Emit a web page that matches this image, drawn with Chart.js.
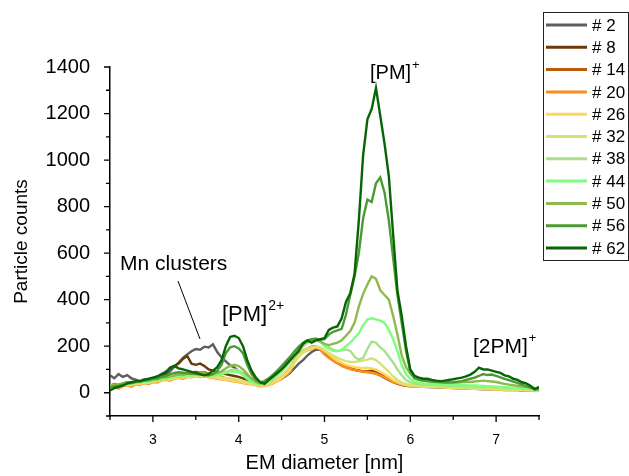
<!DOCTYPE html>
<html>
<head>
<meta charset="utf-8">
<script src="https://cdn.jsdelivr.net/npm/chart.js@4.4.1/dist/chart.umd.min.js"></script>
<style>
  html, body { margin: 0; padding: 0; background: #fff; }
  #wrap { width: 629px; height: 476px; }
</style>
</head>
<body>
<div id="wrap"><canvas id="chart" width="629" height="476"></canvas></div>
<script>
/* ---- x values: EM diameter [nm] ---- */
const diameter = [
  2.50, 2.55, 2.60, 2.65, 2.70, 2.75, 2.80, 2.85, 2.90, 2.95,
  3.00, 3.05, 3.10, 3.15, 3.20, 3.25, 3.30, 3.35, 3.40, 3.45,
  3.50, 3.55, 3.60, 3.65, 3.70, 3.75, 3.80, 3.85, 3.90, 3.95,
  4.00, 4.05, 4.10, 4.15, 4.20, 4.25, 4.30, 4.35, 4.40, 4.45,
  4.50, 4.55, 4.60, 4.65, 4.70, 4.75, 4.80, 4.85, 4.90, 4.95,
  5.00, 5.05, 5.10, 5.15, 5.20, 5.25, 5.30, 5.35, 5.40, 5.45,
  5.50, 5.55, 5.60, 5.65, 5.70, 5.75, 5.80, 5.85, 5.90, 5.95,
  6.00, 6.05, 6.10, 6.15, 6.20, 6.25, 6.30, 6.35, 6.40, 6.45,
  6.50, 6.55, 6.60, 6.65, 6.70, 6.75, 6.80, 6.85, 6.90, 6.95,
  7.00, 7.05, 7.10, 7.15, 7.20, 7.25, 7.30, 7.35, 7.40, 7.45,
  7.50
];

/* ---- particle counts per sample ---- */
const s2 = [
  75, 62, 80, 68, 76, 62, 56, 50, 58, 55,
  62, 70, 68, 78, 92, 112, 130, 150, 165, 178,
  188, 185, 198, 195, 208, 175, 152, 135, 118, 108,
  92, 82, 72, 60, 48, 40, 38, 40, 46, 52,
  60, 72, 85, 105, 125, 140, 160, 175, 185, 185,
  172, 155, 142, 128, 118, 110, 104, 98, 95, 92,
  90, 86, 82, 74, 64, 54, 45, 38, 33, 30,
  28, 27, 26, 25, 24, 23, 23, 22, 21, 21,
  20, 19, 19, 18, 17, 17, 16, 15, 15, 14,
  14, 13, 12, 12, 11, 11, 10, 10, 9, 9,
  8
];
const s8 = [
  30, 38, 34, 40, 45, 42, 48, 46, 52, 50,
  58, 62, 70, 85, 108, 115, 125, 145, 158, 125,
  120, 125, 115, 100, 95, 90, 85, 80, 76, 72,
  68, 62, 55, 48, 42, 38, 38, 42, 48, 58,
  70, 88, 108, 140, 162, 178, 188, 195, 198, 188,
  170, 152, 140, 128, 118, 110, 104, 98, 94, 92,
  92, 96, 88, 78, 68, 58, 48, 42, 36, 33,
  31, 30, 29, 28, 27, 26, 25, 24, 24, 23,
  22, 22, 21, 20, 20, 19, 18, 18, 17, 17,
  16, 15, 15, 14, 13, 13, 12, 12, 11, 10,
  10
];
const s14 = [
  25, 30, 28, 34, 38, 35, 42, 40, 46, 44,
  52, 50, 58, 62, 66, 72, 80, 78, 86, 84,
  90, 86, 88, 82, 78, 72, 68, 62, 58, 54,
  50, 46, 42, 38, 35, 32, 34, 38, 45, 56,
  68, 85, 105, 140, 165, 180, 190, 198, 200, 190,
  172, 155, 142, 130, 120, 112, 106, 100, 96, 92,
  92, 88, 84, 76, 68, 58, 48, 42, 36, 33,
  31, 30, 29, 28, 27, 26, 25, 24, 24, 23,
  22, 22, 21, 20, 20, 19, 18, 18, 17, 17,
  16, 15, 15, 14, 13, 13, 12, 12, 11, 10,
  10
];
const s20 = [
  15, 22, 18, 28, 32, 26, 36, 33, 42, 38,
  46, 44, 52, 55, 52, 60, 64, 60, 68, 66,
  72, 68, 70, 66, 64, 60, 58, 54, 52, 48,
  46, 42, 38, 36, 32, 28, 30, 34, 40, 50,
  60, 75, 90, 135, 160, 175, 182, 190, 195, 185,
  165, 150, 138, 128, 115, 108, 102, 98, 94, 90,
  88, 86, 82, 74, 66, 56, 46, 40, 35, 32,
  30, 29, 28, 27, 26, 25, 25, 24, 23, 22,
  22, 21, 20, 20, 19, 18, 18, 17, 16, 16,
  15, 15, 14, 13, 13, 12, 11, 11, 10, 10,
  9
];
const s26 = [
  20, 25, 24, 30, 34, 32, 38, 36, 44, 42,
  48, 48, 54, 58, 56, 62, 66, 64, 70, 68,
  74, 70, 72, 68, 66, 62, 60, 56, 54, 50,
  48, 44, 40, 36, 33, 30, 32, 36, 42, 52,
  64, 80, 98, 130, 155, 172, 184, 192, 196, 192,
  180, 165, 150, 138, 128, 120, 114, 110, 108, 106,
  106, 104, 100, 90, 80, 68, 55, 45, 38, 33,
  30, 28, 27, 26, 25, 24, 24, 23, 22, 21,
  21, 20, 19, 19, 18, 17, 17, 16, 15, 15,
  14, 14, 13, 12, 12, 11, 11, 10, 10, 9,
  8
];
const s32 = [
  25, 30, 28, 34, 38, 36, 42, 40, 46, 45,
  50, 52, 56, 60, 62, 66, 70, 68, 74, 72,
  76, 74, 75, 72, 70, 68, 66, 64, 62, 58,
  55, 50, 45, 40, 36, 34, 36, 40, 48, 60,
  74, 92, 112, 140, 162, 178, 190, 196, 200, 195,
  185, 172, 160, 150, 142, 136, 132, 132, 135, 138,
  142, 148, 140, 125, 108, 90, 70, 55, 45, 38,
  34, 32, 30, 29, 28, 27, 26, 25, 24, 23,
  22, 22, 21, 20, 19, 19, 18, 17, 17, 16,
  15, 15, 14, 13, 13, 12, 11, 11, 10, 10,
  9
];
const s38 = [
  30, 34, 32, 38, 42, 40, 46, 45, 50, 48,
  54, 55, 60, 62, 66, 70, 72, 72, 78, 76,
  80, 78, 80, 78, 76, 80, 84, 90, 96, 100,
  95, 82, 65, 50, 40, 36, 40, 48, 60, 75,
  92, 112, 135, 160, 180, 200, 215, 225, 228, 218,
  205, 195, 185, 180, 182, 185, 180, 155, 142, 150,
  188, 220, 215, 195, 180, 155, 130, 100, 75, 55,
  45, 40, 38, 36, 35, 34, 33, 32, 31, 30,
  30, 29, 29, 28, 28, 27, 27, 26, 25, 24,
  24, 23, 22, 21, 20, 19, 18, 17, 16, 15,
  14
];
const s44 = [
  28, 32, 30, 36, 40, 38, 44, 42, 48, 47,
  52, 54, 58, 60, 64, 68, 70, 70, 76, 74,
  78, 76, 78, 75, 74, 76, 80, 86, 90, 92,
  88, 76, 60, 48, 40, 36, 40, 50, 64, 82,
  100, 122, 145, 172, 192, 210, 222, 230, 232, 222,
  200, 188, 180, 178, 185, 200, 215, 235, 255, 290,
  315, 320, 315, 310, 300, 270, 230, 180, 120, 80,
  60, 48, 42, 40, 38, 37, 36, 35, 35, 34,
  33, 33, 32, 32, 31, 31, 30, 29, 28, 27,
  26, 25, 24, 23, 22, 21, 20, 19, 18, 17,
  16
];
const s50 = [
  30, 35, 33, 40, 44, 42, 48, 47, 53, 52,
  58, 58, 64, 66, 70, 74, 78, 76, 82, 80,
  84, 82, 84, 80, 80, 84, 92, 105, 115, 120,
  115, 100, 80, 60, 46, 40, 44, 54, 68, 86,
  105, 128, 150, 175, 195, 210, 220, 226, 228, 220,
  210, 205, 210, 215, 225, 245, 265, 300, 370, 425,
  465, 500, 490, 440, 420, 400, 330, 250, 160, 110,
  82, 62, 55, 52, 50, 48, 47, 46, 45, 45,
  44, 44, 45, 46, 46, 48, 50, 52, 50, 48,
  46, 42, 38, 35, 32, 30, 27, 25, 22, 20,
  18
];
const s56 = [
  22, 28, 30, 35, 40, 42, 46, 48, 52, 55,
  60, 62, 68, 72, 80, 85, 88, 86, 84, 82,
  80, 78, 76, 74, 80, 95, 120, 170, 195, 200,
  190, 170, 120, 80, 55, 45, 50, 62, 78, 95,
  115, 135, 155, 178, 198, 215, 225, 230, 232, 228,
  230, 250, 262, 268, 275, 335, 420, 500, 600, 750,
  830, 820, 900, 925, 860, 740, 580, 420, 300, 180,
  90, 62, 55, 52, 50, 48, 46, 45, 44, 44,
  45, 47, 50, 55, 60, 65, 72, 80, 76, 78,
  72, 66, 60, 54, 48, 42, 35, 28, 22, 16,
  14
];
const s62 = [
  10, 20, 25, 30, 40, 45, 50, 50, 55, 60,
  65, 70, 80, 90, 105, 115, 105, 100, 95, 90,
  85, 80, 75, 80, 95, 110, 140, 200, 240, 245,
  235, 200, 140, 95, 65, 45, 38, 55, 70, 85,
  100, 120, 140, 160, 180, 210, 225, 215, 225, 230,
  235, 270, 280, 285, 320, 390, 427, 510, 740, 1020,
  1175, 1220, 1310, 1190, 1070, 930, 680, 440, 330, 200,
  100, 72, 65, 60, 60, 55, 52, 50, 52, 55,
  58, 62, 65, 70, 78, 90, 108, 100, 100, 95,
  90, 85, 75, 70, 60, 55, 45, 40, 30, 15,
  25
];

const seriesLabels = ["# 2", "# 8", "# 14", "# 20", "# 26", "# 32", "# 38", "# 44", "# 50", "# 56", "# 62"];
const seriesValues = [s2, s8, s14, s20, s26, s32, s38, s44, s50, s56, s62];
const seriesColors = ["#5e5e5e", "#6b3a06", "#b85c0a", "#ff8c1a", "#ffd75e", "#d6e374",
                      "#a9e08c", "#7dff7d", "#8fb94d", "#4c9a34", "#066606"];

/* ---- tick values ---- */
const xMajor = [3, 4, 5, 6, 7];
const xMinor = [2.5, 3.5, 4.5, 5.5, 6.5, 7.5];
const yMajor = [0, 200, 400, 600, 800, 1000, 1200, 1400];
const yMinor = [-100, 100, 300, 500, 700, 900, 1100, 1300];

const FONT = "'Liberation Sans', Arial, sans-serif";

/* ---- ticks, annotations and legend ---- */
const extras = {
  id: "extras",
  afterDraw(chart) {
    const ctx = chart.ctx;
    const xs = chart.scales.x, ys = chart.scales.y;
    const area = chart.chartArea;
    ctx.save();
    ctx.strokeStyle = "#000";
    ctx.lineWidth = 1.3;
    ctx.beginPath();
    xMajor.forEach(v => { const p = xs.getPixelForValue(v); ctx.moveTo(p, area.bottom); ctx.lineTo(p, area.bottom + 6); });
    xMinor.forEach(v => { const p = xs.getPixelForValue(v); ctx.moveTo(p, area.bottom); ctx.lineTo(p, area.bottom + 4); });
    yMajor.forEach(v => { const p = ys.getPixelForValue(v); ctx.moveTo(area.left, p); ctx.lineTo(area.left - 6, p); });
    yMinor.forEach(v => { const p = ys.getPixelForValue(v); ctx.moveTo(area.left, p); ctx.lineTo(area.left - 4, p); });
    ctx.stroke();

    // annotations
    ctx.fillStyle = "#000";
    ctx.textBaseline = "middle";
    ctx.textAlign = "left";
    const sup = (base, supTxt, x, y, size, supSize, dy) => {
      ctx.font = size + "px " + FONT;
      ctx.fillText(base, x, y);
      const w = ctx.measureText(base).width;
      ctx.font = supSize + "px " + FONT;
      ctx.fillText(supTxt, x + w + 1, y - dy);
    };
    sup("[PM]", "+", 370, 73, 20, 13, 8);
    sup("[PM]", "2+", 222, 315, 22, 14, 9);
    sup("[2PM]", "+", 473, 347, 21, 13, 9);
    ctx.font = "21px " + FONT;
    ctx.fillText("Mn clusters", 120, 264);
    ctx.lineWidth = 1;
    ctx.beginPath();
    ctx.moveTo(178, 281);
    ctx.lineTo(200, 339);
    ctx.stroke();

    // legend
    ctx.strokeStyle = "#222";
    ctx.lineWidth = 1;
    ctx.strokeRect(543.5, 12.5, 85, 248);
    ctx.font = "17px " + FONT;
    chart.data.datasets.forEach((ds, i) => {
      const y = 25 + i * 22.3;
      ctx.strokeStyle = ds.borderColor;
      ctx.lineWidth = 3;
      ctx.beginPath();
      ctx.moveTo(546, y);
      ctx.lineTo(587, y);
      ctx.stroke();
      ctx.fillStyle = "#000";
      ctx.fillText(ds.label, 592, y + 1);
    });
    ctx.restore();
  }
};

new Chart(document.getElementById("chart"), {
  type: "line",
  data: {
    datasets: seriesLabels.map((label, i) => ({
      label: label,
      data: diameter.map((d, j) => ({ x: d, y: seriesValues[i][j] })),
      borderColor: seriesColors[i],
      backgroundColor: seriesColors[i],
      borderWidth: 2.4,
      pointRadius: 0,
      tension: 0,
      order: seriesLabels.length - i
    }))
  },
  options: {
    responsive: false,
    animation: false,
    devicePixelRatio: 1,
    layout: { padding: { left: 0, right: 90, top: 67, bottom: 0 } },
    plugins: { legend: { display: false }, tooltip: { enabled: false } },
    scales: {
      x: {
        type: "linear",
        min: 2.5,
        max: 7.5,
        afterBuildTicks: s => { s.ticks = xMajor.map(v => ({ value: v })); },
        afterFit: s => { s.height = 60; },
        grid: { display: false },
        border: { display: true, color: "#000", width: 1.5 },
        ticks: { color: "#000", padding: 8, font: { family: FONT, size: 14 }, maxRotation: 0, callback: v => String(v) },
        title: { display: true, text: "EM diameter [nm]", color: "#000", font: { family: FONT, size: 20 }, padding: { top: 0, bottom: 1 } }
      },
      y: {
        type: "linear",
        min: -100,
        max: 1400,
        afterBuildTicks: s => { s.ticks = yMajor.map(v => ({ value: v })); },
        afterFit: s => { s.width = 110; },
        grid: { display: false },
        border: { display: true, color: "#000", width: 1.5 },
        ticks: { color: "#000", padding: 12, font: { family: FONT, size: 20 }, callback: v => String(v) },
        title: { display: true, text: "Particle counts", color: "#000", font: { family: FONT, size: 19 }, padding: { top: 10, bottom: 0 } }
      }
    }
  },
  plugins: [extras]
});
</script>
</body>
</html>
